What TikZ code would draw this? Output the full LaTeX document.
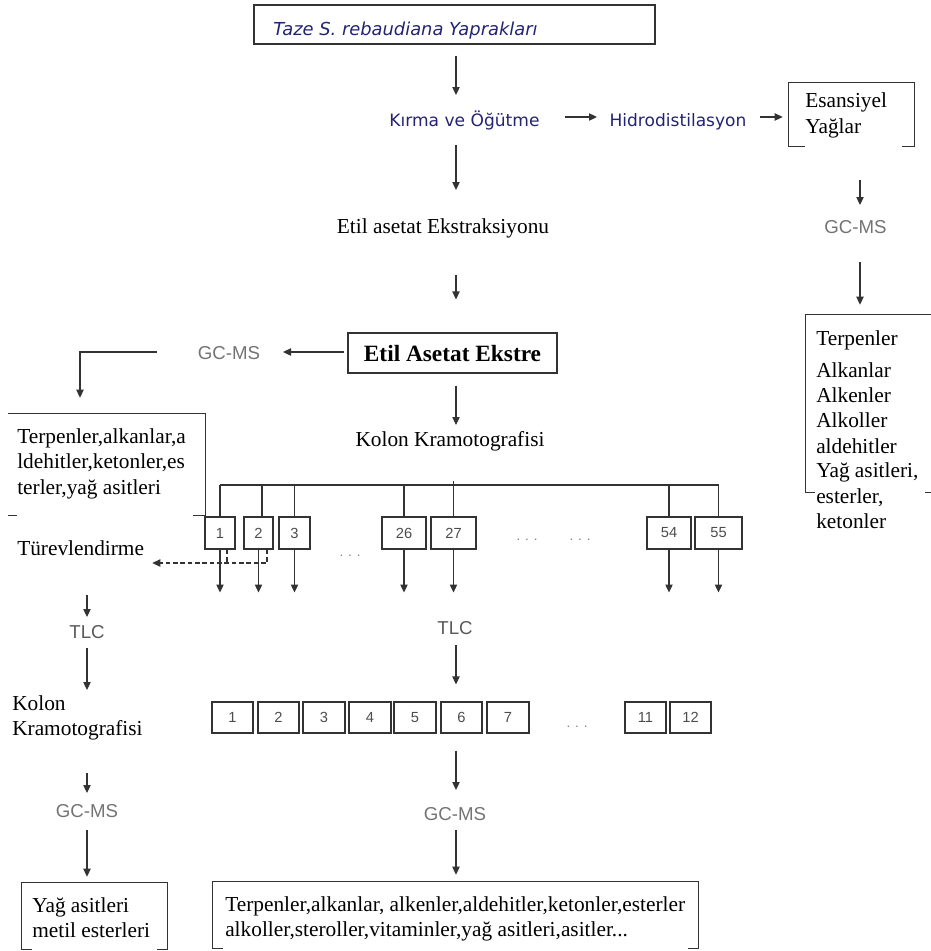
\documentclass[tikz,border=0pt]{standalone}
\usepackage{fontspec}
\setmainfont{Liberation Serif}
\newfontfamily\tah{DejaVu Sans}
\newfontfamily\ari{Liberation Sans}
\usetikzlibrary{arrows.meta,calc}
\definecolor{navy}{RGB}{35,35,115}
\begin{document}
\begin{tikzpicture}[x=0.75pt,y=-0.75pt,
  ln/.style={draw=black!80, line width=0.8pt},
  arr/.style={ln, -{Triangle[length=6pt,width=5.5pt]}},
  dsh/.style={ln, dash pattern=on 3.5pt off 2pt},
  wh/.style 2 args={minimum width=#1*0.75pt, minimum height=#2*0.75pt},
  ser/.style={inner sep=0pt, font=\fontsize{16pt}{19pt}\selectfont, text=black},
  serb/.style={inner sep=0pt, font=\bfseries\fontsize{17.5pt}{20pt}\selectfont, text=black},
  tahs/.style={inner sep=0pt, font=\tah\fontsize{12.8pt}{15pt}\selectfont, text=navy},
  tahi/.style={inner sep=0pt, font=\tah\itshape\fontsize{13.4pt}{15pt}\selectfont, text=navy},
  gc/.style={inner sep=0pt, font=\ari\fontsize{14pt}{16pt}\selectfont, text=black!55},
  num/.style={ln, inner sep=0pt, font=\ari\fontsize{11pt}{13pt}\selectfont, text=black!70},
  dots/.style={inner sep=0pt, font=\ari\fontsize{10pt}{12pt}\selectfont, text=black!50},
  frame/.style={inner sep=0pt},
]
\useasboundingbox (0,0) rectangle (931,951);

% ---------- top part ----------
\node[ln, frame, wh={401}{39}] (top) at (454.5,24.5) {};
\node[tahi, anchor=base west] (toptxt) at (273,35) {Taze S. rebaudiana Yaprakları};
\node[tahs, anchor=base] (kirma) at (464.5,126) {Kırma ve Öğütme};
\node[tahs, anchor=base] (hidro) at (678,126) {Hidrodistilasyon};
\node[frame, wh={125}{63}] (esbox) at (851.5,114.5) {};
\draw[ln] ($(esbox.south west)+(16,0)$) -- (esbox.south west) -- (esbox.north west) -- (esbox.north east) -- (esbox.south east) -- ++(-12,0);
\node[ser, anchor=base west] (es1) at (805,107) {Esansiyel};
\node[ser, anchor=base west] (es2) at (805,133) {Yağlar};

\node[ser, anchor=base] (etil) at (443,233) {Etil asetat Ekstraksiyonu};
\node[gc, anchor=base] (gcR) at (855.5,233) {GC-MS};

% right result box
\node[frame, wh={125}{177}] (rbox) at (868.5,403.5) {};
\draw[ln] ($(rbox.south west)+(9,0)$) -- (rbox.south west) -- (rbox.north west) -- (rbox.north east);
\draw[ln] ($(rbox.south east)+(-6,0)$) -- (rbox.south east);
\node[ser, anchor=base west] (r1) at (816,345) {Terpenler};
\node[ser, anchor=base west] (r2) at (816,377) {Alkanlar};
\node[ser, anchor=base west] (r3) at (816,402) {Alkenler};
\node[ser, anchor=base west] (r4) at (816,427) {Alkoller};
\node[ser, anchor=base west] (r5) at (816,453) {aldehitler};
\node[ser, anchor=base west] (r6) at (816,477) {Yağ asitleri,};
\node[ser, anchor=base west] (r7) at (816,503) {esterler,};
\node[ser, anchor=base west] (r8) at (816,528) {ketonler};

% ekstre
\node[ln, frame, wh={209}{40}] (ekstre) at (452.5,353) {};
\node[serb, anchor=base] (ekstxt) at (452.5,361) {Etil Asetat Ekstre};
\node[gc, anchor=base] (gcL) at (229,359) {GC-MS};
\node[ser, anchor=base] (kolon) at (450,446) {Kolon Kramotografisi};

% left result box
\node[frame, wh={197}{101}] (lbox) at (106.5,464.5) {};
\draw[ln] ($(lbox.south west)+(9,0)$) -- (lbox.south west);
\draw[ln] (lbox.north west) -- (lbox.north east) -- (lbox.south east) -- ++(-12,0);
\node[ser, anchor=base west] (l1) at (17,443) {Terpenler,alkanlar,a};
\node[ser, anchor=base west] (l2) at (17,468) {ldehitler,ketonler,es};
\node[ser, anchor=base west] (l3) at (17,494) {terler,yağ asitleri};

% connectors top part
\draw[arr] ($(top.south)+(1.5,11)$) -- ($(kirma.base)+(-8.5,-31)$);
\draw[arr] ($(kirma.base)+(100.5,-9)$) -- ($(hidro.base)+(-81,-9)$);
\draw[arr] ($(hidro.base)+(82,-9)$) -- ($(esbox.west)+(-6,2.5)$);
\draw[arr] ($(kirma.base)+(-8.5,19)$) -- ($(etil.base)+(13,-43)$);
\draw[arr] ($(etil.base)+(13,42)$) -- ($(ekstre.north)+(3.5,-33)$);
\draw[arr] ($(esbox.south)+(8.5,34)$) -- ($(gcR.base)+(4.5,-28)$);
\draw[arr] ($(gcR.base)+(4.5,29)$) -- ($(rbox.north)+(-8.5,-10)$);
\draw[arr] ($(ekstre.west)+(-3,-1)$) -- ($(gcL.base)+(54,-7)$);
\draw[arr] ($(gcL.base)+(-72,-7)$) -| ($(lbox.north)+(-26.5,-16)$);
\draw[arr] ($(ekstre.south)+(3.5,12)$) -- ($(kolon.base)+(6,-21)$);

% ---------- fractions row 1 ----------
\coordinate (bus) at (0,485);
\node[num, wh={30}{32}] (b1) at (220,533) {1};
\node[num, wh={29}{32}] (b2) at (258.5,533) {2};
\node[num, wh={31}{32}] (b3) at (294.5,533) {3};
\node[num, wh={44}{32}] (b26) at (404,533) {26};
\node[num, wh={45}{32}] (b27) at (453.5,533) {27};
\node[num, wh={44}{32}] (b54) at (669,533) {54};
\node[num, wh={47}{32}] (b55) at (718.5,533) {55};
\node[dots] (d1) at (350,556) {. . .};
\node[dots] (d2) at (527,540) {. . .};
\node[dots] (d3) at (580,540) {. . .};

\draw[ln] (b1.north |- bus) -- (b55.north |- bus);
\foreach \b in {b1,b3,b26,b54,b55}{
  \draw[ln] (\b.north) -- (\b.north |- bus);
  \draw[arr] (\b.south) -- ++(0,43);
}
\draw[ln] (b27.north) -- ($(b27.north |- bus)+(0,-4)$);
\draw[arr] (b27.south) -- ++(0,43);
\draw[ln] ($(b2.north)+(3.5,0)$) -- ($(b2.north |- bus)+(3.5,0)$);
\draw[arr] (b2.south) -- ++(0,43);

% left branch
\node[ser, anchor=base west] (turev) at (17,555) {Türevlendirme};
\draw[dsh] ($(b1.south)+(7,0)$) -- ++(0,14);
\draw[dsh, -{Triangle[length=6pt,width=5.5pt]}] ($(b2.south)+(8.5,0)$) |- ($(turev.base east)+(8,8)$);
\node[gc, anchor=base, text=black!65] (tlcL) at (87,638) {TLC};
\node[ser, anchor=base west] (kolL1) at (12,710) {Kolon};
\node[ser, anchor=base west] (kolL2) at (12,735) {Kramotografisi};
\node[gc, anchor=base] (gcL2) at (87,817) {GC-MS};
\node[frame, wh={145}{68}] (ybox) at (94.5,917) {};
\draw[ln] ($(ybox.south west)+(10,-2)$) -- ($(ybox.south west)+(0,-2)$) -- (ybox.north west) -- (ybox.north east) -- ($(ybox.south east)+(0,-2)$) -- ++(-10,0);
\node[ser, anchor=base west] (y1) at (32,912) {Yağ asitleri};
\node[ser, anchor=base west] (y2) at (32,937) {metil esterleri};

\draw[arr] ($(turev.base west)+(70,40)$) -- ($(tlcL.base)+(0,-21)$);
\draw[arr] ($(tlcL.base)+(0,10)$) -- ($(kolL1.base west)+(75,-20)$);
\draw[arr] ($(kolL2.base west)+(75,38)$) -- ($(gcL2.base)+(0,-24)$);
\draw[arr] ($(gcL2.base)+(0,13)$) -- ($(ybox.north)+(-7.5,-6)$);

% ---------- center branch ----------
\node[gc, anchor=base, text=black!65] (tlc2) at (455,634) {TLC};
\node[num, wh={41}{31}] (c1) at (232.5,717.5) {1};
\node[num, wh={41}{31}] (c2) at (278.5,717.5) {2};
\node[num, wh={42}{31}] (c3) at (324,717.5) {3};
\node[num, wh={42}{31}] (c4) at (370,717.5) {4};
\node[num, wh={42}{31}] (c5) at (415,717.5) {5};
\node[num, wh={41}{31}] (c6) at (461.5,717.5) {6};
\node[num, wh={42}{31}] (c7) at (508,717.5) {7};
\node[num, wh={41}{31}] (c11) at (645.5,717.5) {11};
\node[num, wh={41}{31}] (c12) at (690.5,717.5) {12};
\node[dots] (d4) at (577,727) {. . .};
\node[gc, anchor=base] (gc2) at (455,820) {GC-MS};

\node[frame, wh={485}{68}] (bbox) at (455.5,916) {};
\draw[ln] ($(bbox.south west)+(10,-2)$) -- ($(bbox.south west)+(0,-2)$) -- (bbox.north west) -- (bbox.north east) -- ($(bbox.south east)+(0,-2)$) -- ++(-10,0);
\node[ser, anchor=base west] (bt1) at (225,911) {Terpenler,alkanlar, alkenler,aldehitler,ketonler,esterler};
\node[ser, anchor=base west] (bt2) at (225,936) {alkoller,steroller,vitaminler,yağ asitleri,asitler...};

\draw[arr] ($(tlc2.base)+(1,11)$) -- ($(c6.north)+(-5.5,-17)$);
\draw[arr] ($(c6.south)+(-5.5,17)$) -- ($(gc2.base)+(1,-30)$);
\draw[arr] ($(gc2.base)+(1,10)$) -- ($(bbox.north)+(0.5,-7)$);
\end{tikzpicture}
\end{document}
